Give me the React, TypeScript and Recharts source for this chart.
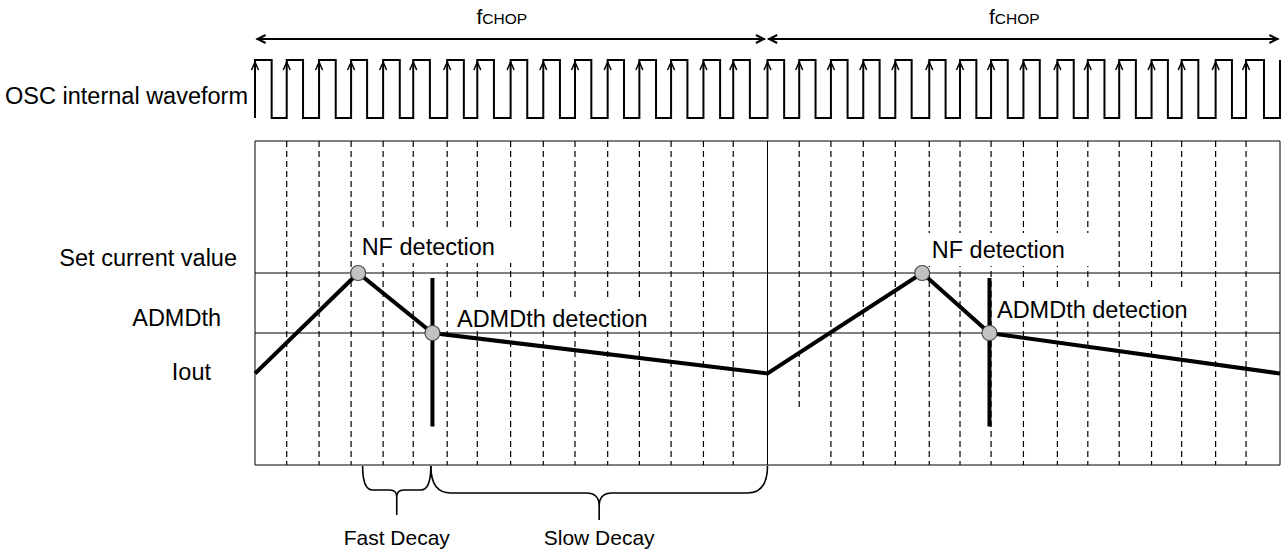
import {
  ComposedChart,
  Line,
  ReferenceArea,
  ReferenceLine,
  Scatter,
  XAxis,
  YAxis,
} from "recharts";

const FONT = '"Liberation Sans", Arial, Helvetica, sans-serif';
const INK = "#000";

// time is counted in OSC periods, 16 periods per chopping cycle
const T_END = 32;
const CHOP_BOUNDARY = 16;

// OSC internal waveform edges
const OSC_RISE = [
  0, 0.99, 2, 3, 4, 4.94, 6, 6.94, 7.98, 9, 9.99, 11.01, 12, 12.99, 14, 14.93, 16, 16.99, 17.98,
  18.99, 19.99, 21.05, 22.01, 22.98, 23.99, 25.05, 26, 26.98, 27.99, 28.93, 29.99, 30.94, 32,
];
const OSC_FALL = [
  0.52, 1.5, 2.52, 3.5, 4.52, 5.46, 6.52, 7.46, 8.5, 9.52, 10.5, 11.52, 12.52, 13.5, 14.52, 15.45,
  16.52, 17.5, 18.5, 19.5, 20.5, 21.56, 22.52, 23.5, 24.5, 25.56, 26.52, 27.5, 28.5, 29.45, 30.5,
  31.5,
];
const OSC_LOW = 0;
const OSC_HIGH = 1;
const OSC_MID = 0.5;
const OSC_LABEL = "OSC internal waveform";

// fCHOP arrows above the clock
const FCHOP_LEVEL = 1.362;
const FCHOP_FROM = [0.05, 16.02];
const FCHOP_TO = [15.92, 31.95];

// Iout waveform
const BOX_TOP = 108;
const IOUT_T = [0, 3.22, 5.54, 16, 20.83, 22.93, 32];
const IOUT_A = [30.5, 64, 44, 30.5, 64, 44, 30.5];

const LEVEL_VALUES = [64, 44, 30.5];
const LEVEL_LABELS = ["Set current value", "ADMDth", "Iout"];
const SET_CURRENT = 64;
const ADMDTH = 44;

// detection events
const EVENT_T = [3.22, 5.54, 20.83, 22.93];
const EVENT_A = [64, 44, 64, 44];
const EVENT_LABELS = ["NF detection", "ADMDth detection", "NF detection", "ADMDth detection"];

// thick ADMDth detection markers
const MARK_T = [5.54, 22.93];
const MARK_TOP = 62.3;
const MARK_BOTTOM = 12.8;

// dashed line that stops short of the box bottom
const SHORT_DASH_T = 16.99;
const SHORT_DASH_BOTTOM = 19;

// decay braces
const BRACE_FROM = [3.36, 5.49];
const BRACE_TO = [5.49, 16];
const BRACE_LABELS = ["Fast Decay", "Slow Decay"];

const clockData: { t: number; v: number }[] = [];
OSC_RISE.forEach((t, k) => {
  clockData.push({ t, v: OSC_LOW }, { t, v: OSC_HIGH });
  if (k < OSC_FALL.length) {
    clockData.push({ t: OSC_FALL[k], v: OSC_HIGH }, { t: OSC_FALL[k], v: OSC_LOW });
  }
});
const edgeArrows = OSC_RISE.filter((t) => t < T_END).map((t) => ({ t, v: OSC_HIGH }));
const dashTimes = OSC_RISE.filter((t) => t !== 0 && t !== CHOP_BOUNDARY && t !== T_END);
const ioutData = IOUT_T.map((t, k) => ({ t, i: IOUT_A[k] }));
const eventData = EVENT_T.map((t, k) => ({ t, i: EVENT_A[k], idx: k, text: EVENT_LABELS[k] }));

// label placement relative to its event point (px)
const LABEL_BOX = [
  { dx: 3.5, dy: -18, w: 168, top: 25, h: 33 },
  { dx: 24.5, dy: -6.5, w: 200, top: 27, h: 31 },
  { dx: 9.5, dy: -15, w: 168, top: 25, h: 33 },
  { dx: 7.5, dy: -15.5, w: 200, top: 27, h: 31 },
];
const LEVEL_OFFSET: Record<string, [number, number]> = {
  "Set current value": [-18, -7],
  ADMDth: [-34, -7],
  Iout: [-44, 6],
};

const OscTick = (p: any) => (
  <text x={p.x - 7} y={p.y + 15} textAnchor="end" fontFamily={FONT} fontSize={23.5} fill={INK}>
    {OSC_LABEL}
  </text>
);

const LevelTick = (p: any) => {
  const label = LEVEL_LABELS[LEVEL_VALUES.indexOf(p.payload.value)];
  const [dx, dy] = LEVEL_OFFSET[label];
  return (
    <text x={p.x + dx} y={p.y + dy} textAnchor="end" fontFamily={FONT} fontSize={23.5} fill={INK}>
      {label}
    </text>
  );
};

const FchopArrow = (p: any) => {
  const { x1, x2, y1 } = p;
  const cx = (x1 + x2) / 2 - 9;
  return (
    <g>
      <line x1={x1} y1={y1} x2={x2} y2={y1} stroke={INK} strokeWidth={2} />
      <polyline points={`${x1 + 9},${y1 - 4} ${x1 + 1},${y1} ${x1 + 9},${y1 + 4}`} fill="none" stroke={INK} strokeWidth={2} />
      <polyline points={`${x2 - 9},${y1 - 4} ${x2 - 1},${y1} ${x2 - 9},${y1 + 4}`} fill="none" stroke={INK} strokeWidth={2} />
      <text x={cx} y={y1 - 15} textAnchor="middle" fontFamily={FONT} fill={INK}>
        <tspan fontSize={21}>f</tspan>
        <tspan fontSize={15.5}>CHOP</tspan>
      </text>
    </g>
  );
};

const EdgeArrow = (p: any) => (
  <polyline
    points={`${p.cx - 3.5},${p.cy + 10} ${p.cx},${p.cy + 2} ${p.cx + 3.5},${p.cy + 10}`}
    fill="none"
    stroke={INK}
    strokeWidth={1.5}
  />
);

const Annotation = (p: any) => {
  const b = LABEL_BOX[p.payload.idx];
  const tx = p.cx + b.dx;
  const ty = p.cy + b.dy;
  return (
    <g>
      <rect x={tx - 4} y={ty - b.top} width={b.w} height={b.h} fill="#fff" />
      <text x={tx} y={ty} fontFamily={FONT} fontSize={23.5} fill={INK}>
        {p.payload.text}
      </text>
    </g>
  );
};

const EventDot = (p: any) => (
  <circle cx={p.cx} cy={p.cy} r={7.5} fill="#c2c2c2" stroke="#4a4a4a" strokeWidth={1.2} />
);

const Brace = (p: any) => {
  const left = Math.min(p.x1, p.x2);
  const right = Math.max(p.x1, p.x2);
  const big = right - left > 150;
  const top = p.y1 + 1;
  const yArm = top + (big ? 27 : 24);
  const yTip = top + (big ? 54 : 49);
  const r = big ? 20 : 10;
  const c = big ? 13 : 7;
  const mid = (left + right) / 2;
  const d = [
    `M${left},${top}`,
    `Q${left},${yArm} ${left + r},${yArm}`,
    `L${mid - c},${yArm}`,
    `Q${mid},${yArm} ${mid},${yArm + c}`,
    `L${mid},${yTip}`,
    `L${mid},${yArm + c}`,
    `Q${mid},${yArm} ${mid + c},${yArm}`,
    `L${right - r},${yArm}`,
    `Q${right},${yArm} ${right},${top}`,
  ].join(" ");
  return (
    <g>
      <path d={d} fill="none" stroke={INK} strokeWidth={1.6} />
      <text x={mid} y={top + 79} textAnchor="middle" fontFamily={FONT} fontSize={21} fill={INK}>
        {p.label}
      </text>
    </g>
  );
};

export default function App() {
  return (
    <div style={{ position: "absolute", left: 0, top: 0, width: 1283, height: 550, background: "#fff" }}>
      <div style={{ position: "absolute", left: 0, top: 0 }}>
        <ComposedChart width={1283} height={130} margin={{ top: 39, right: 3, bottom: 12, left: 0 }}>
          <XAxis dataKey="t" type="number" domain={[0, T_END]} hide />
          <YAxis
            type="number"
            domain={[OSC_LOW, FCHOP_LEVEL]}
            width={255}
            ticks={[OSC_MID]}
            interval={0}
            tick={<OscTick />}
            axisLine={false}
            tickLine={false}
            tickSize={0}
            tickMargin={0}
          />
          {FCHOP_FROM.map((from, k) => (
            <ReferenceLine
              key={`fchop-${k}`}
              segment={[
                { x: from, y: FCHOP_LEVEL },
                { x: FCHOP_TO[k], y: FCHOP_LEVEL },
              ]}
              shape={FchopArrow}
            />
          ))}
          <Line
            data={clockData}
            dataKey="v"
            type="linear"
            stroke={INK}
            strokeWidth={2}
            strokeLinejoin="miter"
            dot={false}
            activeDot={false}
            isAnimationActive={false}
          />
          <Scatter data={edgeArrows} dataKey="v" shape={EdgeArrow} isAnimationActive={false} />
        </ComposedChart>
      </div>

      <div style={{ position: "absolute", left: 0, top: 0 }}>
        <ComposedChart width={1283} height={550} margin={{ top: 141, right: 3, bottom: 85, left: 0 }}>
          <XAxis dataKey="t" type="number" domain={[0, T_END]} hide />
          <YAxis
            type="number"
            domain={[0, BOX_TOP]}
            width={255}
            ticks={LEVEL_VALUES}
            interval={0}
            tick={<LevelTick />}
            axisLine={false}
            tickLine={false}
            tickSize={0}
            tickMargin={0}
          />
          {dashTimes.map((t) => (
            <ReferenceLine
              key={`dash-${t}`}
              segment={[
                { x: t, y: BOX_TOP },
                { x: t, y: t === SHORT_DASH_T ? SHORT_DASH_BOTTOM : 0 },
              ]}
              stroke={INK}
              strokeWidth={1.2}
              strokeDasharray="6 4"
              zIndex={10}
            />
          ))}
          <ReferenceArea
            x1={0}
            x2={T_END}
            y1={0}
            y2={BOX_TOP}
            fill="none"
            fillOpacity={0}
            stroke={INK}
            strokeWidth={1}
            zIndex={20}
          />
          <ReferenceLine x={CHOP_BOUNDARY} stroke={INK} strokeWidth={1} zIndex={20} />
          <ReferenceLine y={SET_CURRENT} stroke={INK} strokeWidth={1} zIndex={20} />
          <ReferenceLine y={ADMDTH} stroke={INK} strokeWidth={1} zIndex={20} />
          {BRACE_FROM.map((from, k) => (
            <ReferenceLine
              key={`brace-${k}`}
              segment={[
                { x: from, y: 0 },
                { x: BRACE_TO[k], y: 0 },
              ]}
              shape={(p: any) => <Brace {...p} label={BRACE_LABELS[k]} />}
              zIndex={20}
            />
          ))}
          <Scatter data={eventData} dataKey="i" shape={Annotation} isAnimationActive={false} zIndex={30} />
          <Line
            data={ioutData}
            dataKey="i"
            type="linear"
            stroke={INK}
            strokeWidth={4}
            dot={false}
            activeDot={false}
            isAnimationActive={false}
            zIndex={40}
          />
          {MARK_T.map((t) => (
            <ReferenceLine
              key={`mark-${t}`}
              segment={[
                { x: t, y: MARK_TOP },
                { x: t, y: MARK_BOTTOM },
              ]}
              stroke={INK}
              strokeWidth={4}
              zIndex={50}
            />
          ))}
          <Scatter data={eventData} dataKey="i" shape={EventDot} isAnimationActive={false} zIndex={60} />
        </ComposedChart>
      </div>
    </div>
  );
}
